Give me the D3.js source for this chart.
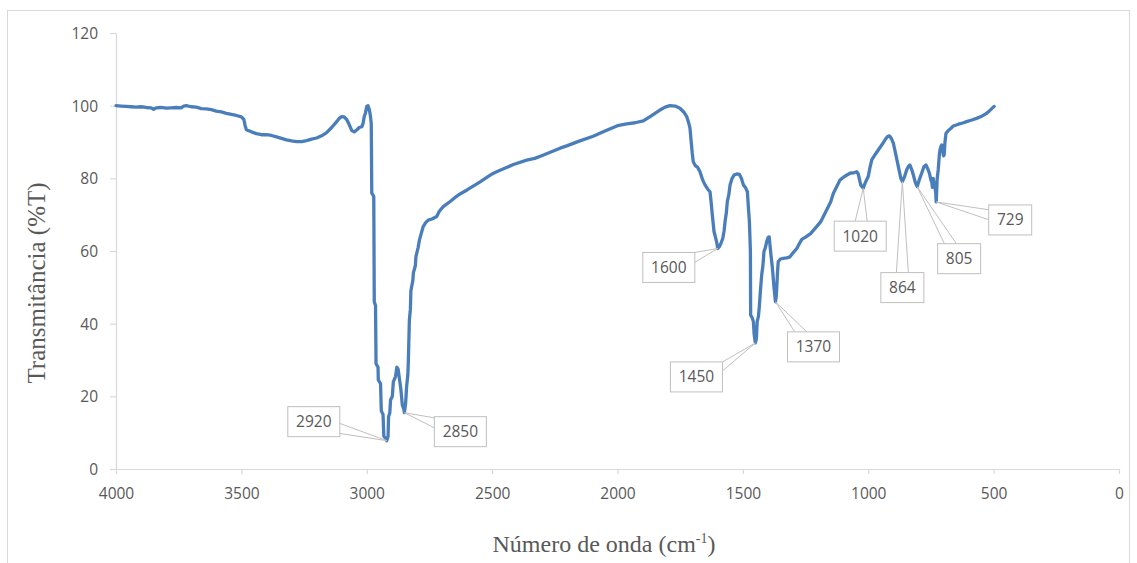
<!DOCTYPE html>
<html lang="pt">
<head>
<meta charset="utf-8">
<title>Espectro FTIR</title>
<script src="https://cdn.jsdelivr.net/npm/d3@7"></script>
<style>
  html, body { margin: 0; padding: 0; background: #fff; }
  svg { display: block; }
</style>
</head>
<body>
<svg id="chart" width="1137" height="563"></svg>
<script>
// Número de onda (cm-1), decrescente
const wavenumbers = [
  4000, 3980, 3960, 3940, 3920, 3900, 3880, 3860, 3850, 3840, 3820, 3800, 3780, 3760, 3740, 3730, 3720, 3700,
  3680, 3660, 3640, 3620, 3600, 3580, 3560, 3540, 3520, 3500, 3490, 3485, 3480, 3460, 3440, 3420, 3400, 3380,
  3360, 3340, 3320, 3300, 3280, 3260, 3240, 3220, 3200, 3180, 3160, 3140, 3120, 3110, 3100, 3090, 3080, 3070,
  3060, 3050, 3040, 3030, 3020, 3015, 3010, 3005, 3000, 2995, 2990, 2985, 2982, 2980, 2972, 2970, 2965, 2963,
  2955, 2954, 2945, 2942, 2935, 2932, 2925, 2920, 2915, 2913, 2908, 2905, 2898, 2894, 2885, 2880, 2875, 2870,
  2864, 2858, 2852, 2850, 2845, 2841, 2836, 2834, 2830, 2826, 2824, 2816, 2814, 2806, 2804, 2795, 2790, 2782,
  2775, 2765, 2755, 2740, 2721, 2710, 2695, 2670, 2650, 2628, 2600, 2548, 2500, 2482, 2415, 2362, 2330, 2300,
  2229, 2200, 2150, 2097, 2050, 2000, 1963, 1930, 1897, 1870, 1831, 1810, 1791, 1770, 1751, 1735, 1724, 1715,
  1711, 1706, 1702, 1698, 1690, 1680, 1671, 1660, 1651, 1640, 1631, 1626, 1622, 1615, 1610, 1605, 1600, 1594,
  1588, 1580, 1575, 1571, 1566, 1562, 1556, 1551, 1543, 1535, 1524, 1514, 1506, 1498, 1490, 1482, 1478, 1474,
  1470, 1469, 1462, 1458, 1455, 1450, 1446, 1443, 1438, 1435, 1430, 1425, 1420, 1416, 1410, 1405, 1399, 1395,
  1391, 1388, 1384, 1381, 1376, 1370, 1367, 1365, 1362, 1359, 1350, 1339, 1325, 1312, 1300, 1285, 1275, 1265,
  1250, 1230, 1206, 1190, 1166, 1150, 1139, 1125, 1113, 1095, 1073, 1055, 1046, 1040, 1036, 1030, 1020, 1013,
  1005, 1000, 993, 986, 973, 960, 945, 933, 923, 916, 908, 900, 890, 880, 870, 864, 855, 847, 840, 834, 827,
  820, 812, 805, 797, 787, 778, 770, 762, 756, 750, 747, 744, 741, 737, 734, 731, 729, 725, 721, 717, 714, 710,
  707, 703, 700, 697, 694, 690, 680, 670, 661, 640, 620, 608, 590, 568, 550, 530, 515, 498
];

// Transmitância (%T)
const transmittance = [
  100.0, 99.9, 99.8, 99.7, 99.6, 99.7, 99.5, 99.4, 99.0, 99.4, 99.5, 99.3, 99.4, 99.5, 99.4, 99.9, 100.0, 99.7,
  99.6, 99.2, 99.1, 98.9, 98.5, 98.3, 97.9, 97.6, 97.3, 96.9, 96.2, 94.5, 93.4, 92.8, 92.3, 92.0, 92.0, 91.8,
  91.4, 91.0, 90.6, 90.3, 90.1, 90.1, 90.4, 90.8, 91.1, 91.7, 92.6, 94.0, 95.6, 96.5, 97.0, 96.9, 96.2, 94.8,
  93.2, 92.8, 93.3, 94.0, 94.2, 95.0, 97.0, 98.0, 99.8, 100.0, 99.0, 97.0, 95.0, 76.0, 75.0, 46.0, 45.0, 29.0,
  28.0, 24.5, 23.5, 16.0, 15.0, 9.0, 8.5, 7.8, 9.0, 14.4, 15.5, 19.0, 20.0, 24.0, 25.5, 28.0, 27.5, 25.0,
  22.0, 17.5, 16.5, 15.5, 18.0, 22.7, 26.0, 30.0, 41.0, 44.0, 49.0, 52.0, 54.0, 56.0, 58.4, 61.0, 63.0, 65.0,
  66.7, 67.8, 68.5, 68.8, 69.5, 71.0, 72.2, 73.5, 74.6, 75.7, 76.8, 79.0, 81.2, 81.8, 83.8, 85.0, 85.5, 86.3,
  88.3, 89.0, 90.3, 91.6, 93.0, 94.5, 95.0, 95.3, 95.8, 97.0, 98.8, 99.6, 100.0, 99.9, 99.3, 98.2, 97.0, 95.0,
  93.8, 90.0, 87.0, 84.6, 83.5, 83.0, 81.8, 79.5, 78.2, 77.0, 76.3, 73.0, 70.0, 65.3, 64.0, 62.6, 60.7, 61.2,
  62.0, 63.5, 65.5, 68.1, 70.5, 73.6, 75.5, 78.2, 80.0, 80.9, 81.2, 81.1, 80.0, 78.2, 77.5, 76.3, 72.0, 68.1,
  60.0, 42.4, 41.5, 40.5, 37.0, 34.7, 36.0, 40.5, 42.0, 44.2, 49.0, 53.4, 56.0, 59.8, 61.0, 62.6, 63.8, 63.9,
  61.0, 58.9, 56.5, 54.3, 50.0, 46.0, 47.5, 49.7, 54.0, 57.1, 57.8, 58.0, 58.1, 58.4, 59.5, 60.7, 62.0, 63.2,
  63.8, 64.8, 66.7, 68.0, 71.3, 73.5, 75.9, 77.8, 79.5, 80.5, 81.4, 81.6, 81.8, 81.2, 80.0, 78.2, 77.3, 78.6,
  79.8, 80.5, 83.0, 85.1, 86.5, 87.8, 89.3, 90.6, 91.5, 91.7, 91.0, 89.7, 86.5, 83.2, 80.0, 79.1, 80.5, 82.3, 83.3, 83.7, 82.5,
  80.9, 78.8, 77.7, 79.5, 81.4, 83.2, 83.7, 82.5, 81.4, 79.5, 79.1, 77.5, 80.0, 78.0, 77.7, 76.0, 73.5, 80.0, 82.3, 86.0, 87.8, 88.8,
  89.2, 88.0, 86.2, 86.5, 90.0, 92.4, 93.2, 93.8, 94.4, 94.9, 95.3, 95.6, 96.0, 96.5, 97.0, 97.8, 98.7, 99.8
];

// Bandas anotadas (cm-1)
const peakLabels = [2920, 2850, 1600, 1450, 1370, 1020, 864, 805, 729];

// Marcas dos eixos
const xTicks = [4000, 3500, 3000, 2500, 2000, 1500, 1000, 500, 0];
const yTicks = [0, 20, 40, 60, 80, 100, 120];

// ---- layout ----
const plot = { left: 116, right: 1119, top: 33, bottom: 469 };
const axisColor = "#d9d9d9";
const textColor = "#595959";
const lineColor = "#4a7ebb";
const tickFont = "'Open Sans', Lato, sans-serif";
const titleFont = "'Liberation Serif', 'DejaVu Serif', serif";

// callout box centres, offset from the band they point at (px)
const calloutOffsets = {
  2920: [-73, -19], 2850: [56, 19], 1600: [-49, 19], 1450: [-59, 34], 1370: [38, 45],
  1020: [-3, 48], 864: [0, 106], 805: [42, 72], 729: [74, 18]
};

const svg = d3.select("#chart");

// outer chart frame
svg.append("rect")
  .attr("x", 7.5).attr("y", 10.5)
  .attr("width", 1122).attr("height", 560)
  .attr("fill", "#fff").attr("stroke", axisColor).attr("stroke-width", 1);

const x = d3.scaleLinear().domain([4000, 0]).range([plot.left, plot.right]);
const y = d3.scaleLinear().domain([0, 120]).range([plot.bottom, plot.top]);

// y axis
const gy = svg.append("g")
  .attr("transform", `translate(${plot.left},0)`)
  .call(d3.axisLeft(y).tickValues(yTicks).tickSize(6).tickSizeOuter(0).tickPadding(12));
// x axis
const gx = svg.append("g")
  .attr("transform", `translate(0,${plot.bottom})`)
  .call(d3.axisBottom(x).tickValues(xTicks).tickSize(5).tickSizeOuter(0).tickFormat(d3.format("d")));

[gx, gy].forEach(g => {
  g.select(".domain").attr("stroke", axisColor).attr("stroke-width", 1.2);
  g.selectAll(".tick line").attr("stroke", axisColor).attr("stroke-width", 1.2);
  g.selectAll(".tick text")
    .attr("fill", textColor)
    .style("font-family", tickFont)
    .style("font-size", "15.5px");
});
gx.selectAll(".tick text").attr("y", 25).attr("dy", "0.35em");
gy.selectAll(".tick text").attr("dy", "0.35em");

// spectrum
const points = wavenumbers.map((w, i) => ({ w, t: transmittance[i] }));
const line = d3.line().x(d => x(d.w)).y(d => y(d.t));
svg.append("path")
  .datum(points)
  .attr("fill", "none")
  .attr("stroke", lineColor)
  .attr("stroke-width", 3.3)
  .attr("stroke-linejoin", "round")
  .attr("stroke-linecap", "round")
  .attr("d", line);

// value of the curve at a given wavenumber
const sortedAsc = points.slice().sort((a, b) => a.w - b.w);
const bis = d3.bisector(d => d.w).left;
function valueAt(w) {
  const i = bis(sortedAsc, w);
  if (i <= 0) return sortedAsc[0].t;
  if (i >= sortedAsc.length) return sortedAsc[sortedAsc.length - 1].t;
  const a = sortedAsc[i - 1], b = sortedAsc[i];
  return a.t + (b.t - a.t) * (w - a.w) / (b.w - a.w);
}

// callouts
const callouts = svg.append("g");
peakLabels.forEach(w => {
  const px = x(w), py = y(valueAt(w));
  const [dx, dy] = calloutOffsets[w];
  const cx = px + dx, cy = py + dy;
  const txt = String(w);
  const bw = txt.length === 4 ? 52 : 43, bh = 30;
  const L = cx - bw / 2, R = cx + bw / 2, T = cy - bh / 2, B = cy + bh / 2;

  // where the pointer leaves the box
  const vx = px - cx, vy = py - cy;
  const sx = vx === 0 ? Infinity : (bw / 2) / Math.abs(vx);
  const sy = vy === 0 ? Infinity : (bh / 2) / Math.abs(vy);
  let base;
  if (sx < sy) {
    const ex = vx > 0 ? R : L;
    const ey = Math.max(T + 4, Math.min(B - 4, cy + vy * sx));
    base = [[ex, Math.max(T, ey - 5)], [ex, Math.min(B, ey + 5)]];
  } else {
    const ey = vy > 0 ? B : T;
    const ex = Math.max(L + 4, Math.min(R - 4, cx + vx * sy));
    base = [[Math.max(L, ex - 6), ey], [Math.min(R, ex + 6), ey]];
  }
  callouts.append("path")
    .attr("d", `M${base[0][0]},${base[0][1]}L${px},${py}L${base[1][0]},${base[1][1]}`)
    .attr("fill", "none")
    .attr("stroke", "#bfbfbf")
    .attr("stroke-width", 1);
  callouts.append("rect")
    .attr("x", L).attr("y", T).attr("width", bw).attr("height", bh)
    .attr("fill", "#fff").attr("stroke", "#bfbfbf").attr("stroke-width", 1);
  callouts.append("text")
    .attr("x", cx).attr("y", cy).attr("dy", "0.35em")
    .attr("text-anchor", "middle")
    .attr("fill", textColor)
    .style("font-family", tickFont)
    .style("font-size", "15.5px")
    .text(txt);
});

// axis titles
svg.append("text")
  .attr("transform", `translate(45,${(plot.top + plot.bottom) / 2 + 32}) rotate(-90)`)
  .attr("text-anchor", "middle")
  .attr("fill", textColor)
  .style("font-family", titleFont)
  .style("font-size", "25px")
  .text("Transmitância (%T)");

const xt = svg.append("text")
  .attr("x", 604).attr("y", 552)
  .attr("text-anchor", "middle")
  .attr("fill", textColor)
  .style("font-family", titleFont)
  .style("font-size", "24px");
xt.append("tspan").text("Número de onda (cm");
xt.append("tspan").attr("dy", -9).style("font-size", "14px").text("-1");
xt.append("tspan").attr("dy", 9).text(")");
</script>
</body>
</html>
